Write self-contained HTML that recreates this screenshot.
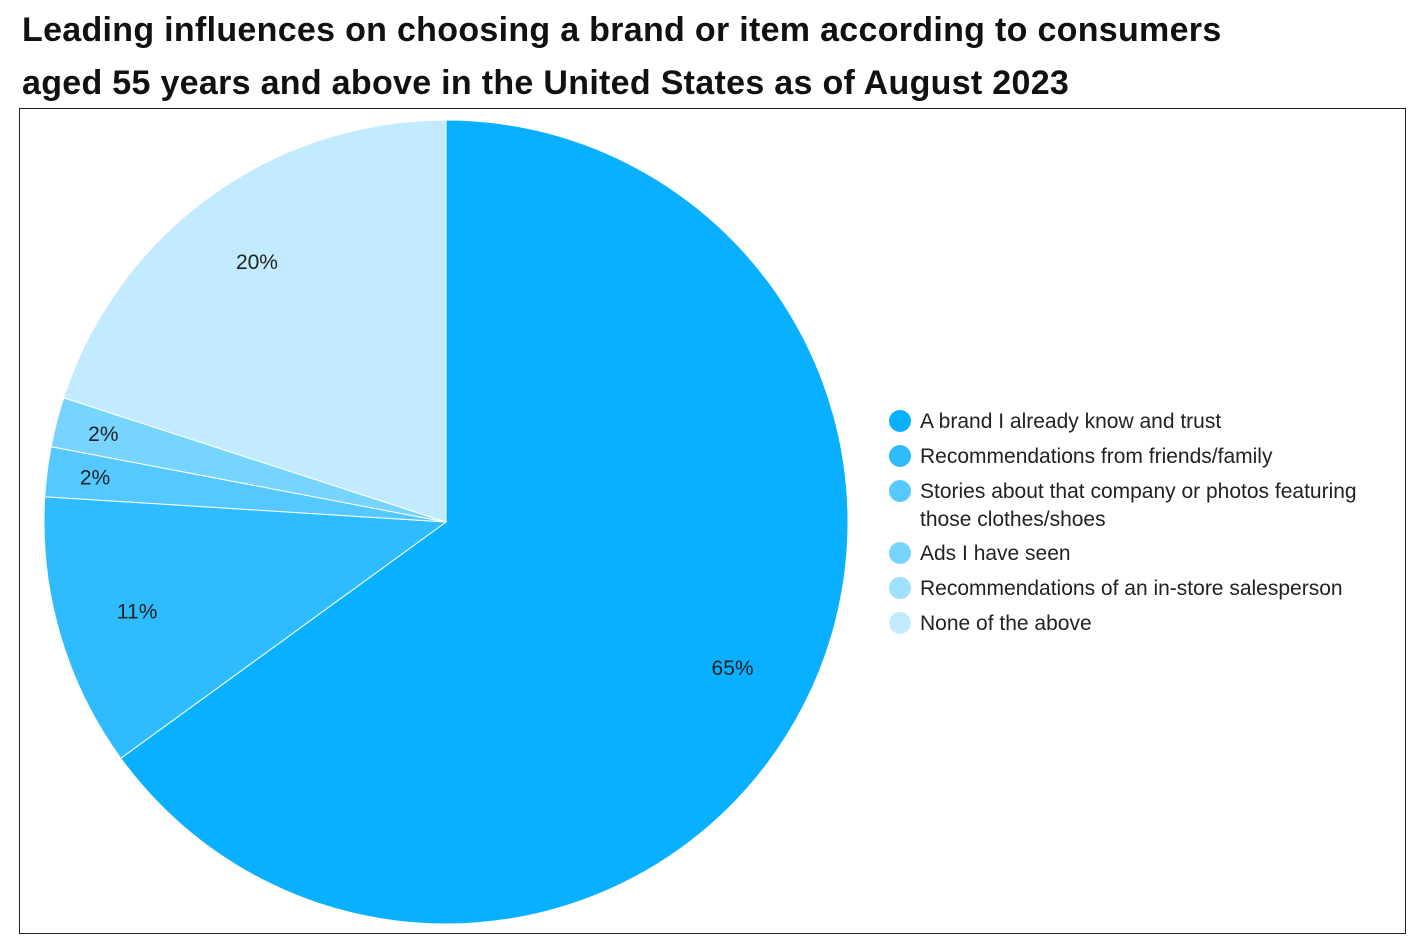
<!DOCTYPE html>
<html><head><meta charset="utf-8">
<style>
body{margin:0;background:#fff;width:1420px;height:951px;overflow:hidden;font-family:"Liberation Sans",sans-serif;}
#title{position:absolute;left:22px;top:4px;font-size:34px;font-weight:bold;line-height:53px;color:#111;letter-spacing:0.3px;}
#frame{position:absolute;left:19px;top:108px;width:1387px;height:826px;border:1.5px solid #222;box-sizing:border-box;}
svg{position:absolute;left:0;top:0;}
</style></head><body>
<div id="title">Leading influences on choosing a brand or item according to consumers<br>aged 55 years and above in the United States as of August 2023</div>
<div id="frame"></div>
<svg id="chart" width="1420" height="951"></svg>
<script>
const categories=["A brand I already know and trust","Recommendations from friends/family","Stories about that company or photos featuring those clothes/shoes","Ads I have seen","Recommendations of an in-store salesperson","None of the above"];
const values=[65,11,2,2,0,20];
const labels=["65%","11%","2%","2%","","20%"];
const colors=["#08b0ff","#2ebcff","#55c8ff","#77d4ff","#a0e0ff","#c2ebff"];
const NS="http://www.w3.org/2000/svg";
const svg=document.getElementById('chart');
const cx=446,cy=522,r=402;
const total=values.reduce((a,b)=>a+b,0);
function pt(a,rad){return [cx+rad*Math.sin(a),cy-rad*Math.cos(a)];}
let acc=0;
values.forEach((v,i)=>{
  const a0=acc/total*2*Math.PI; acc+=v; const a1=acc/total*2*Math.PI;
  if(v>0){
    const p0=pt(a0,r),p1=pt(a1,r);
    const path=document.createElementNS(NS,'path');
    path.setAttribute('d',`M${cx},${cy}L${p0[0]},${p0[1]}A${r},${r} 0 ${a1-a0>Math.PI?1:0} 1 ${p1[0]},${p1[1]}Z`);
    path.setAttribute('fill',colors[i]);
    path.setAttribute('stroke','#fff');path.setAttribute('stroke-width','1');
    
    
    svg.appendChild(path);
    const am=(a0+a1)/2; const lp=pt(am,r*(v<5?0.88:0.8));
    const t=document.createElementNS(NS,'text');
    t.setAttribute('x',lp[0]);t.setAttribute('y',lp[1]+7);
    t.setAttribute('text-anchor','middle');t.setAttribute('font-size','21');t.setAttribute('fill','#222');
    t.textContent=labels[i];
    
    
    svg.appendChild(t);
  }
});
let ly=421;
categories.forEach((c,i)=>{
  const g=document.createElementNS(NS,'g');
  
  
  const ci=document.createElementNS(NS,'circle');
  ci.setAttribute('cx',900);ci.setAttribute('cy',ly);ci.setAttribute('r',11);ci.setAttribute('fill',colors[i]);
  g.appendChild(ci);
  let lines=[c];
  if(c.length>50){lines=["Stories about that company or photos featuring","those clothes/shoes"];}
  lines.forEach((ln,k)=>{
    const t=document.createElementNS(NS,'text');
    t.setAttribute('x',920);t.setAttribute('y',ly+7+k*28);t.setAttribute('font-size','21');t.setAttribute('fill','#222');
    t.textContent=ln;g.appendChild(t);
  });
  svg.appendChild(g);
  ly+=lines.length>1?62:35;
});
</script>
</body></html>
